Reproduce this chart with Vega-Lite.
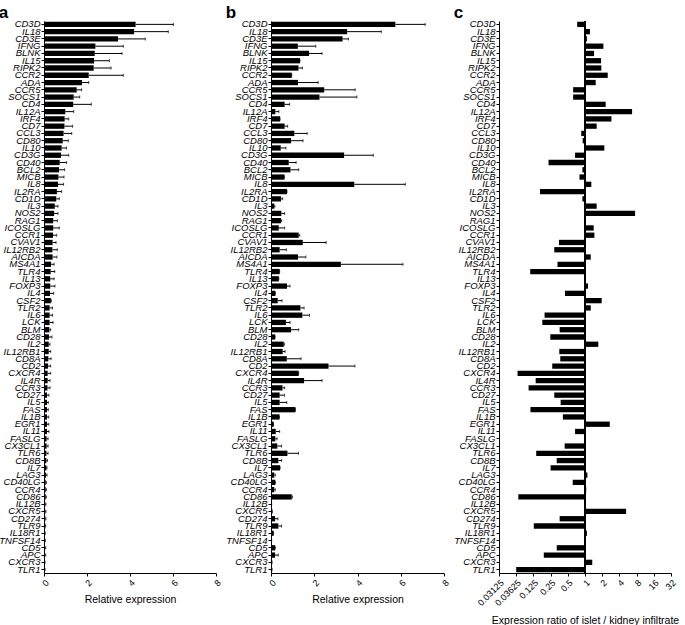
{
  "$schema": "https://vega.github.io/schema/vega-lite/v6.json",
  "padding": {"left": -2, "top": 3, "right": 0, "bottom": 0},
  "bounds": "flush",
  "spacing": 55,
  "config": {
    "font": "Liberation Sans",
    "view": {"stroke": null},
    "axis": {"domainColor": "black", "tickColor": "black", "labelColor": "black", "titleColor": "black", "grid": false, "labelFont": "Liberation Sans", "titleFont": "Liberation Sans", "titleFontWeight": "normal", "titleFontSize": 10.5, "labelFontSize": 9, "tickSize": 3},
    "title": {"anchor": "start", "frame": "bounds", "fontSize": 17, "fontWeight": "bold", "font": "Liberation Sans", "offset": -3, "color": "black"}
  },
  "datasets": {
    "genes": [
      {"gene": "CD3D", "a": 4.26, "aErr": 6.02, "b": 5.75, "bErr": 7.13, "c": 0.73},
      {"gene": "IL18", "a": 4.19, "aErr": 5.78, "b": 3.52, "bErr": 5.10, "c": 1.22},
      {"gene": "CD3E", "a": 3.44, "aErr": 4.71, "b": 3.31, "bErr": 3.58, "c": 1.08},
      {"gene": "IFNG", "a": 2.39, "aErr": 3.69, "b": 1.24, "bErr": 2.07, "c": 2.10},
      {"gene": "BLNK", "a": 2.36, "aErr": 3.63, "b": 1.76, "bErr": 2.36, "c": 1.44},
      {"gene": "IL15", "a": 2.33, "aErr": 3.04, "b": 1.34, "bErr": 1.34, "c": 1.91},
      {"gene": "RIPK2", "a": 2.31, "aErr": 3.12, "b": 1.27, "bErr": 1.45, "c": 1.93},
      {"gene": "CCR2", "a": 2.08, "aErr": 3.69, "b": 0.96, "bErr": 0.96, "c": 2.50},
      {"gene": "ADA", "a": 1.77, "aErr": 2.08, "b": 1.25, "bErr": 2.18, "c": 1.54},
      {"gene": "CCR5", "a": 1.52, "aErr": 1.75, "b": 2.46, "bErr": 3.89, "c": 0.62},
      {"gene": "SOCS1", "a": 1.38, "aErr": 1.66, "b": 2.24, "bErr": 3.97, "c": 0.62},
      {"gene": "CD4", "a": 1.36, "aErr": 2.20, "b": 0.63, "bErr": 0.86, "c": 2.30},
      {"gene": "IL12A", "a": 0.99, "aErr": 1.38, "b": 0.20, "bErr": 0.36, "c": 6.67},
      {"gene": "IRF4", "a": 0.96, "aErr": 1.15, "b": 0.42, "bErr": 0.42, "c": 2.90},
      {"gene": "CD7", "a": 0.95, "aErr": 1.33, "b": 0.63, "bErr": 0.77, "c": 1.60},
      {"gene": "CCL3", "a": 0.91, "aErr": 1.29, "b": 1.08, "bErr": 1.67, "c": 0.86},
      {"gene": "CD80", "a": 0.87, "aErr": 1.13, "b": 0.93, "bErr": 1.48, "c": 0.91},
      {"gene": "IL10", "a": 0.82, "aErr": 1.05, "b": 0.45, "bErr": 0.69, "c": 2.18},
      {"gene": "CD3G", "a": 0.79, "aErr": 1.15, "b": 3.38, "bErr": 4.73, "c": 0.67},
      {"gene": "CD40", "a": 0.73, "aErr": 1.05, "b": 0.82, "bErr": 1.16, "c": 0.23},
      {"gene": "BCL2", "a": 0.70, "aErr": 0.96, "b": 0.90, "bErr": 1.28, "c": 0.90},
      {"gene": "MICB", "a": 0.67, "aErr": 0.93, "b": 0.62, "bErr": 0.62, "c": 0.80},
      {"gene": "IL8", "a": 0.65, "aErr": 0.91, "b": 3.85, "bErr": 6.21, "c": 1.29},
      {"gene": "IL2RA", "a": 0.60, "aErr": 0.82, "b": 0.74, "bErr": 0.74, "c": 0.163},
      {"gene": "CD1D", "a": 0.57, "aErr": 0.71, "b": 0.46, "bErr": 0.54, "c": 0.90},
      {"gene": "IL3", "a": 0.50, "aErr": 0.65, "b": 0.15, "bErr": 0.18, "c": 1.60},
      {"gene": "NOS2", "a": 0.47, "aErr": 0.65, "b": 0.48, "bErr": 0.63, "c": 7.53},
      {"gene": "RAG1", "a": 0.43, "aErr": 0.62, "b": 0.46, "bErr": 0.49, "c": 1.04},
      {"gene": "ICOSLG", "a": 0.43, "aErr": 0.71, "b": 0.36, "bErr": 0.63, "c": 1.42},
      {"gene": "CCR1", "a": 0.42, "aErr": 0.59, "b": 1.28, "bErr": 1.33, "c": 1.46},
      {"gene": "CVAV1", "a": 0.40, "aErr": 0.56, "b": 1.47, "bErr": 2.55, "c": 0.35},
      {"gene": "IL12RB2", "a": 0.39, "aErr": 0.62, "b": 0.40, "bErr": 0.71, "c": 0.29},
      {"gene": "AICDA", "a": 0.40, "aErr": 0.60, "b": 1.25, "bErr": 1.61, "c": 1.26},
      {"gene": "MS4A1", "a": 0.33, "aErr": 0.47, "b": 3.23, "bErr": 6.10, "c": 0.33},
      {"gene": "TLR4", "a": 0.31, "aErr": 0.50, "b": 0.40, "bErr": 0.40, "c": 0.110},
      {"gene": "IL13", "a": 0.29, "aErr": 0.47, "b": 0.36, "bErr": 0.36, "c": 1.0},
      {"gene": "FOXP3", "a": 0.29, "aErr": 0.51, "b": 0.74, "bErr": 0.88, "c": 1.13},
      {"gene": "IL4", "a": 0.28, "aErr": 0.45, "b": 0.20, "bErr": 0.20, "c": 0.446},
      {"gene": "CSF2", "a": 0.32, "aErr": 0.34, "b": 0.31, "bErr": 0.51, "c": 1.96},
      {"gene": "TLR2", "a": 0.26, "aErr": 0.40, "b": 1.36, "bErr": 1.53, "c": 1.26},
      {"gene": "IL6", "a": 0.26, "aErr": 0.40, "b": 1.45, "bErr": 1.78, "c": 0.196},
      {"gene": "LCK", "a": 0.26, "aErr": 0.42, "b": 0.69, "bErr": 0.88, "c": 0.179},
      {"gene": "BLM", "a": 0.25, "aErr": 0.31, "b": 0.93, "bErr": 1.28, "c": 0.36},
      {"gene": "CD28", "a": 0.23, "aErr": 0.37, "b": 0.19, "bErr": 0.19, "c": 0.247},
      {"gene": "IL2", "a": 0.22, "aErr": 0.28, "b": 0.59, "bErr": 0.62, "c": 1.71},
      {"gene": "IL12RB1", "a": 0.22, "aErr": 0.31, "b": 0.54, "bErr": 0.65, "c": 0.355},
      {"gene": "CD8A", "a": 0.20, "aErr": 0.33, "b": 0.73, "bErr": 1.39, "c": 0.369},
      {"gene": "CD2", "a": 0.19, "aErr": 0.31, "b": 2.66, "bErr": 3.88, "c": 0.267},
      {"gene": "CXCR4", "a": 0.17, "aErr": 0.31, "b": 1.28, "bErr": 1.28, "c": 0.066},
      {"gene": "IL4R", "a": 0.17, "aErr": 0.28, "b": 1.53, "bErr": 2.36, "c": 0.137},
      {"gene": "CCR3", "a": 0.16, "aErr": 0.28, "b": 0.53, "bErr": 0.63, "c": 0.103},
      {"gene": "CD27", "a": 0.14, "aErr": 0.23, "b": 0.40, "bErr": 0.62, "c": 0.29},
      {"gene": "IL5", "a": 0.14, "aErr": 0.20, "b": 0.40, "bErr": 0.73, "c": 0.375},
      {"gene": "FAS", "a": 0.14, "aErr": 0.20, "b": 1.13, "bErr": 1.13, "c": 0.111},
      {"gene": "IL1B", "a": 0.14, "aErr": 0.22, "b": 0.39, "bErr": 0.39, "c": 0.41},
      {"gene": "EGR1", "a": 0.14, "aErr": 0.22, "b": 0.12, "bErr": 0.12, "c": 2.71},
      {"gene": "IL11", "a": 0.14, "aErr": 0.23, "b": 0.22, "bErr": 0.40, "c": 0.67},
      {"gene": "FASLG", "a": 0.12, "aErr": 0.19, "b": 0.20, "bErr": 0.28, "c": 1.04},
      {"gene": "CX3CL1", "a": 0.12, "aErr": 0.19, "b": 0.29, "bErr": 0.49, "c": 0.44},
      {"gene": "TLR6", "a": 0.11, "aErr": 0.19, "b": 0.76, "bErr": 1.27, "c": 0.14},
      {"gene": "CD8B", "a": 0.11, "aErr": 0.16, "b": 0.34, "bErr": 0.49, "c": 0.32},
      {"gene": "IL7", "a": 0.11, "aErr": 0.14, "b": 0.42, "bErr": 0.42, "c": 0.25},
      {"gene": "LAG3", "a": 0.09, "aErr": 0.14, "b": 0.15, "bErr": 0.20, "c": 1.10},
      {"gene": "CD40LG", "a": 0.08, "aErr": 0.11, "b": 0.20, "bErr": 0.20, "c": 0.61},
      {"gene": "CCR4", "a": 0.08, "aErr": 0.11, "b": 0.15, "bErr": 0.20, "c": 1.05},
      {"gene": "CD86", "a": 0.08, "aErr": 0.11, "b": 0.96, "bErr": 0.99, "c": 0.068},
      {"gene": "IL12B", "a": 0.06, "aErr": 0.09, "b": 0.03, "bErr": 0.03, "c": 1.0},
      {"gene": "CXCR5", "a": 0.06, "aErr": 0.09, "b": 0.06, "bErr": 0.06, "c": 5.24},
      {"gene": "CD274", "a": 0.06, "aErr": 0.09, "b": 0.19, "bErr": 0.32, "c": 0.36},
      {"gene": "TLR9", "a": 0.06, "aErr": 0.08, "b": 0.34, "bErr": 0.49, "c": 0.127},
      {"gene": "IL18R1", "a": 0.05, "aErr": 0.06, "b": 0.12, "bErr": 0.12, "c": 1.08},
      {"gene": "TNFSF14", "a": 0.05, "aErr": 0.06, "b": 0.03, "bErr": 0.03, "c": 1.0},
      {"gene": "CD5", "a": 0.05, "aErr": 0.08, "b": 0.19, "bErr": 0.20, "c": 0.32},
      {"gene": "APC", "a": 0.05, "aErr": 0.08, "b": 0.19, "bErr": 0.34, "c": 0.19},
      {"gene": "CXCR3", "a": 0.03, "aErr": 0.05, "b": 0.05, "bErr": 0.05, "c": 1.34},
      {"gene": "TLR1", "a": 0.03, "aErr": 0.05, "b": 0.05, "bErr": 0.05, "c": 0.0625}
    ]
  },
  "data": {"name": "genes"},
  "hconcat": [
    {
      "title": {"text": "a"},
      "width": 172,
      "height": 552,
      "encoding": {
        "y": {"field": "gene", "type": "nominal", "sort": null, "scale": {"paddingInner": 0.27, "paddingOuter": 0.1}, "axis": {"title": null, "labelFontStyle": "italic", "labelFontSize": 9.5, "labelPadding": 1, "labelOverlap": false}}
      },
      "layer": [
        {"mark": {"type": "bar", "color": "black"}, "encoding": {"x": {"field": "a", "type": "quantitative", "scale": {"domain": [0, 8]}, "axis": {"title": "Relative expression", "titlePadding": 7, "values": [0, 2, 4, 6, 8], "labelAngle": -45, "labelOverlap": false}}}},
        {"mark": {"type": "rule", "color": "black", "strokeWidth": 1}, "encoding": {"x": {"field": "a", "type": "quantitative"}, "x2": {"field": "aErr"}}},
        {"mark": {"type": "tick", "color": "black", "orient": "vertical", "size": 3, "thickness": 1}, "encoding": {"x": {"field": "aErr", "type": "quantitative"}}}
      ]
    },
    {
      "title": {"text": "b"},
      "width": 173,
      "height": 552,
      "encoding": {
        "y": {"field": "gene", "type": "nominal", "sort": null, "scale": {"paddingInner": 0.27, "paddingOuter": 0.1}, "axis": {"title": null, "labelFontStyle": "italic", "labelFontSize": 9.5, "labelPadding": 1, "labelOverlap": false}}
      },
      "layer": [
        {"mark": {"type": "bar", "color": "black"}, "encoding": {"x": {"field": "b", "type": "quantitative", "scale": {"domain": [0, 8]}, "axis": {"title": "Relative expression", "titlePadding": 7, "values": [0, 2, 4, 6, 8], "labelAngle": -45, "labelOverlap": false}}}},
        {"mark": {"type": "rule", "color": "black", "strokeWidth": 1}, "encoding": {"x": {"field": "b", "type": "quantitative"}, "x2": {"field": "bErr"}}},
        {"mark": {"type": "tick", "color": "black", "orient": "vertical", "size": 3, "thickness": 1}, "encoding": {"x": {"field": "bErr", "type": "quantitative"}}}
      ]
    },
    {
      "title": {"text": "c"},
      "width": 172,
      "height": 552,
      "layer": [
        {"mark": {"type": "bar", "color": "black"}, "encoding": {
          "y": {"field": "gene", "type": "nominal", "sort": null, "scale": {"paddingInner": 0.27, "paddingOuter": 0.1}, "axis": {"title": null, "labelFontStyle": "italic", "labelFontSize": 9.5, "labelPadding": 1, "labelOverlap": false}},
          "x": {"field": "c", "type": "quantitative", "scale": {"type": "log", "base": 2, "domain": [0.03125, 32]}, "axis": {"title": "Expression ratio of islet / kidney infiltrate", "titlePadding": 8, "values": [0.03125, 0.0625, 0.125, 0.25, 0.5, 1, 2, 4, 8, 16, 32], "labelAngle": -45, "labelOverlap": false, "labelExpr": "datum.value == 0.0625 ? '0.03625' : toString(datum.value)"}},
          "x2": {"datum": 1}
        }},
        {"mark": {"type": "rule", "color": "black", "strokeWidth": 1}, "encoding": {"x": {"datum": 1}}}
      ]
    }
  ]
}
